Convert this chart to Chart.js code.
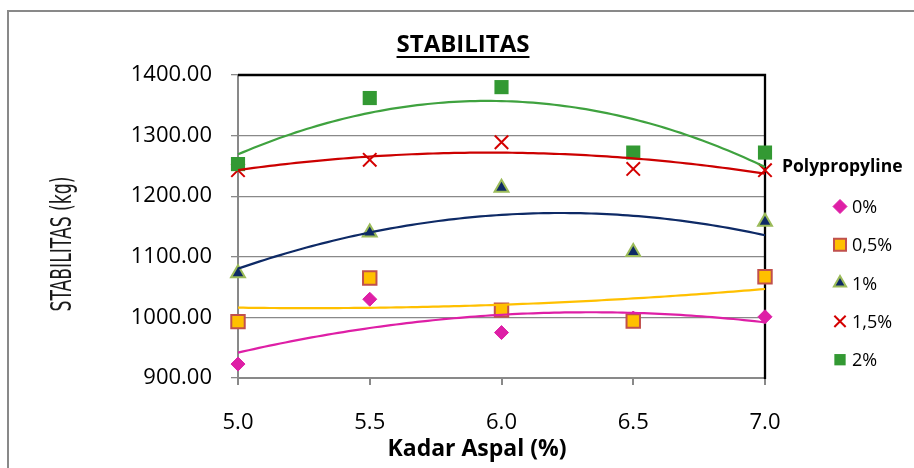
<!DOCTYPE html>
<html>
<head>
<meta charset="utf-8">
<script src="https://cdn.jsdelivr.net/npm/chart.js@4.4.1/dist/chart.umd.min.js"></script>
<style>
html,body{margin:0;padding:0;background:#fff;}
#wrap{width:914px;height:468px;position:relative;}
</style>
</head>
<body>
<div id="wrap"><canvas id="c" width="914" height="468"></canvas></div>
<script>
// ---- data ----
const kadarAspal = [5.0, 5.5, 6.0, 6.5, 7.0];
const pp0  = [923, 1030, 975, 999, 1001];
const pp05 = [993, 1065, 1012, 994, 1067];
const pp1  = [1073, 1140, 1214, 1108, 1158];
const pp15 = [1243, 1260, 1289, 1245, 1243];
const pp2  = [1253, 1362, 1380, 1272, 1272];
const seriesLabels = ['0%', '0,5%', '1%', '1,5%', '2%'];
const xTickValues = [5.0, 5.5, 6.0, 6.5, 7.0];
const yTickValues = [900, 1000, 1100, 1200, 1300, 1400];
const chartTitle = 'STABILITAS';
const xTitle = 'Kadar Aspal (%)';
const yTitle = 'STABILITAS (kg)';
const legendTitle = 'Polypropyline';

// ---- styles ----
const seriesValues = [pp0, pp05, pp1, pp15, pp2];
const styles = [
  {pointStyle:'rectRot',  radius:7,   bg:'#DE1FA6', border:'#DE1FA6', bw:1, line:'#DE1FA6', lr:7},
  {pointStyle:'rect',     radius:9.5, bg:'#FFC000', border:'#C0504D', bw:2, line:'#FFC000', lr:8.5},
  {pointStyle:'triangle', radius:8,   bg:'#0E2A66', border:'#9BBB59', bw:2, line:'#0E2A66', lr:7},
  {pointStyle:'crossRot', radius:9.5, bg:'#D40000', border:'#D40000', bw:2, line:'#CC0000', lr:8},
  {pointStyle:'rect',     radius:10,  bg:'#339933', border:'#339933', bw:0, line:'#3FA23F', lr:8}
];

// Excel-style 2nd order polynomial trendline (least squares)
function polyFit2(xs, ys) {
  const n = xs.length;
  let s = [0,0,0,0,0], t = [0,0,0];
  for (let i = 0; i < n; i++) {
    const x = xs[i], y = ys[i];
    for (let k = 0; k < 5; k++) s[k] += Math.pow(x, k);
    for (let k = 0; k < 3; k++) t[k] += y * Math.pow(x, k);
  }
  const M = [[s[0], s[1], s[2], t[0]], [s[1], s[2], s[3], t[1]], [s[2], s[3], s[4], t[2]]];
  for (let i = 0; i < 3; i++) {
    let p = i;
    for (let r = i + 1; r < 3; r++) if (Math.abs(M[r][i]) > Math.abs(M[p][i])) p = r;
    [M[i], M[p]] = [M[p], M[i]];
    for (let r = 0; r < 3; r++) {
      if (r === i) continue;
      const f = M[r][i] / M[i][i];
      for (let c = i; c < 4; c++) M[r][c] -= f * M[i][c];
    }
  }
  return [M[0][3] / M[0][0], M[1][3] / M[1][1], M[2][3] / M[2][2]];
}
function trendPoints(ys) {
  const [a, b, c] = polyFit2(kadarAspal, ys);
  const pts = [];
  const x0 = kadarAspal[0], x1 = kadarAspal[kadarAspal.length - 1];
  for (let i = 0; i <= 100; i++) {
    const x = x0 + (x1 - x0) * i / 100;
    pts.push({x: x, y: a + b * x + c * x * x});
  }
  return pts;
}

const datasets = [];
seriesValues.forEach((vals, i) => {
  const st = styles[i];
  datasets.push({
    label: seriesLabels[i],
    data: kadarAspal.map((x, j) => ({x: x, y: vals[j]})),
    showLine: false,
    pointStyle: st.pointStyle,
    pointRadius: st.radius,
    pointHoverRadius: st.radius,
    pointBackgroundColor: st.bg,
    pointBorderColor: st.border,
    pointBorderWidth: st.bw,
    backgroundColor: st.bg,
    borderColor: st.border,
    order: 10 - i,
    clip: false
  });
});
seriesValues.forEach((vals, i) => {
  const st = styles[i];
  datasets.push({
    label: 'trend ' + seriesLabels[i],
    data: trendPoints(vals),
    showLine: true,
    pointRadius: 0,
    borderColor: st.line,
    borderWidth: 2.2,
    tension: 0,
    fill: false,
    order: 0,
    clip: false,
    isTrend: true
  });
});

const GRAY = '#898989';

const decor = {
  id: 'decor',
  beforeDraw(chart) {
    const ctx = chart.ctx;
    ctx.save();
    ctx.fillStyle = '#fff';
    ctx.fillRect(0, 0, chart.width, chart.height);
    ctx.strokeStyle = GRAY;
    ctx.lineWidth = 2;
    ctx.strokeRect(8, 11, 1200, 800);
    ctx.restore();
  },
  beforeDatasetsDraw(chart) {
    const ctx = chart.ctx, a = chart.chartArea;
    ctx.save();
    ctx.strokeStyle = '#000';
    ctx.lineWidth = 2.3;
    ctx.beginPath();
    ctx.moveTo(a.left, a.top);
    ctx.lineTo(a.right, a.top);
    ctx.lineTo(a.right, a.bottom + 1);
    ctx.stroke();
    ctx.restore();
  },
  afterDraw(chart) {
    const ctx = chart.ctx;
    ctx.save();
    ctx.fillStyle = '#000';
    // chart title (underlined)
    ctx.font = "bold 24px 'Open Sans', sans-serif";
    ctx.textAlign = 'center';
    ctx.textBaseline = 'alphabetic';
    ctx.fillText(chartTitle, 463, 52);
    const tw = ctx.measureText(chartTitle).width;
    ctx.fillRect(463 - tw / 2, 56, tw, 2);
    // x axis title
    ctx.font = "bold 23px 'Open Sans', sans-serif";
    ctx.fillText(xTitle, 477, 456);
    // y axis title (condensed)
    ctx.save();
    ctx.translate(71, 244);
    ctx.rotate(-Math.PI / 2);
    ctx.font = "29px 'Liberation Sans Narrow', 'DejaVu Sans Condensed', sans-serif";
    const yw = ctx.measureText(yTitle).width;
    ctx.scale(135 / yw, 1);
    ctx.fillStyle = '#1a1a1a';
    ctx.fillText(yTitle, 0, 0);
    ctx.restore();
    // legend
    ctx.textAlign = 'left';
    ctx.font = "bold 17.5px 'Open Sans', sans-serif";
    ctx.fillText(legendTitle, 782, 172);
    ctx.font = "18px 'Open Sans', sans-serif";
    const drawPoint = Chart.helpers && Chart.helpers.drawPoint;
    chart.data.datasets.forEach((ds, i) => {
      if (ds.isTrend) return;
      const st = styles[i];
      const base = 213 + i * 38.3;
      const cy = base - 6.5;
      ctx.fillStyle = st.bg;
      ctx.strokeStyle = st.border;
      ctx.lineWidth = st.bw;
      if (drawPoint) {
        drawPoint(ctx, {pointStyle: st.pointStyle, rotation: 0, radius: st.lr, borderWidth: st.bw}, 840, cy);
      }
      ctx.fillStyle = '#000';
      ctx.fillText(ds.label, 852, base);
    });
    ctx.restore();
  }
};

Chart.defaults.font.family = "'Open Sans', sans-serif";
Chart.defaults.color = '#000';

new Chart(document.getElementById('c'), {
  type: 'scatter',
  data: {datasets: datasets},
  options: {
    responsive: false,
    animation: false,
    devicePixelRatio: 1,
    layout: {padding: {left: 8, right: 149, top: 75, bottom: 0}},
    plugins: {legend: {display: false}, tooltip: {enabled: false}, title: {display: false}},
    scales: {
      x: {
        type: 'linear',
        min: 5, max: 7,
        afterBuildTicks: s => { s.ticks = xTickValues.map(v => ({value: v})); },
        afterFit: s => { s.height = 90; },
        ticks: {
          font: {size: 22},
          padding: 25,
          maxRotation: 0,
          callback: v => Number(v).toFixed(1)
        },
        grid: {drawOnChartArea: false, drawTicks: true, tickLength: 7, color: GRAY, lineWidth: 2},
        border: {display: true, color: GRAY, width: 2}
      },
      y: {
        type: 'linear',
        min: 900, max: 1400,
        afterBuildTicks: s => { s.ticks = yTickValues.map(v => ({value: v})); },
        afterFit: s => { s.width = 230; },
        ticks: {
          font: {size: 22},
          padding: 19,
          callback: v => Number(v).toFixed(2)
        },
        grid: {color: GRAY, lineWidth: 1.3, tickLength: 7, drawTicks: true},
        border: {display: true, color: GRAY, width: 2}
      }
    }
  },
  plugins: [decor]
});
</script>
</body>
</html>
